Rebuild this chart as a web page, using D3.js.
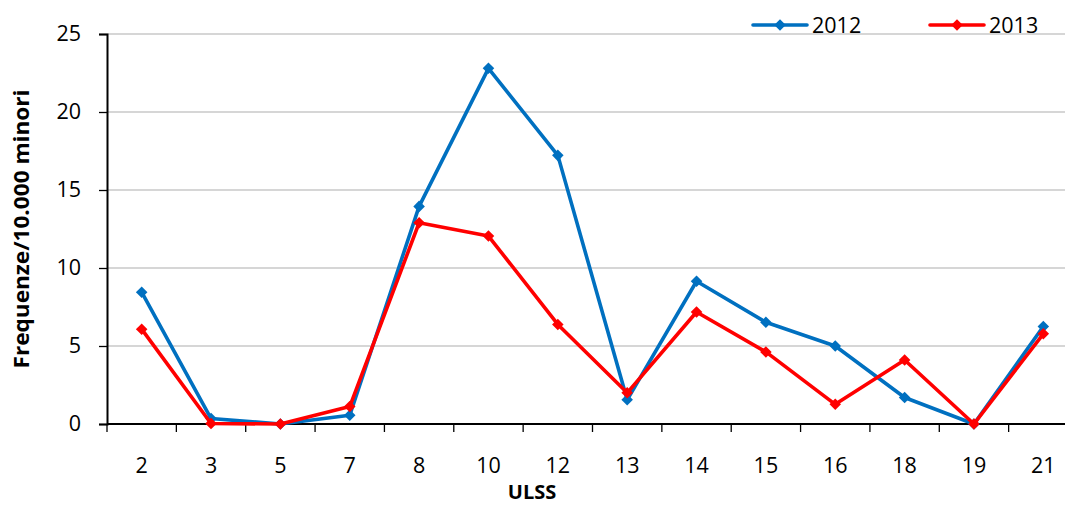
<!DOCTYPE html>
<html>
<head>
<meta charset="utf-8">
<script src="https://cdn.jsdelivr.net/npm/d3@7"></script>
<style>
  html, body { margin: 0; padding: 0; background: #fff; overflow: hidden; }
  svg { display: block; font-family: "Open Sans", "Liberation Sans", sans-serif; }
</style>
</head>
<body>
<svg id="chart" width="1065" height="505"></svg>
<script>
// ULSS districts on the x axis
const categories = ["2", "3", "5", "7", "8", "10", "12", "13", "14", "15", "16", "18", "19", "21"];
// Frequency per 10,000 minors
const values2012 = [8.45, 0.35, 0, 0.56, 13.95, 22.8, 17.22, 1.55, 9.15, 6.52, 5.0, 1.7, 0, 6.25];
const values2013 = [6.08, 0.03, 0, 1.12, 12.9, 12.05, 6.38, 2.0, 7.18, 4.62, 1.26, 4.1, 0, 5.78];
const seriesNames = ["2012", "2013"];
const seriesColors = ["#0070C0", "#FF0000"];
const yTicks = [0, 5, 10, 15, 20, 25];

const svg = d3.select("#chart");
const plotLeft = 107, plotTop = 34, plotBottom = 424, plotRight = 1078;
const labelSize = 21.5;

const x = d3.scaleBand().domain(categories).range([plotLeft, plotRight]).paddingInner(0).paddingOuter(0);
const y = d3.scaleLinear().domain([0, 25]).range([plotBottom, plotTop]);

// horizontal gridlines
svg.append("g")
  .selectAll("line")
  .data(yTicks.filter(d => d > 0))
  .join("line")
  .attr("x1", plotLeft).attr("x2", plotRight)
  .attr("y1", d => y(d)).attr("y2", d => y(d))
  .attr("stroke", "#c8c8c8").attr("stroke-width", 1.3);

// y axis
const yAxis = svg.append("g")
  .attr("transform", `translate(${plotLeft},0)`)
  .call(d3.axisLeft(y).tickValues(yTicks).tickSize(8).tickPadding(18));
yAxis.select(".domain").attr("stroke", "#000").attr("stroke-width", 2);
yAxis.selectAll(".tick line").attr("stroke", "#000").attr("stroke-width", 1.3);
yAxis.selectAll(".tick text").attr("font-size", labelSize).attr("fill", "#000")
  .attr("font-family", "'Open Sans', sans-serif");

// x axis: ticks sit on category boundaries
const xAxis = svg.append("g").attr("transform", `translate(0,${plotBottom})`);
xAxis.append("line").attr("x1", plotLeft).attr("x2", plotRight).attr("stroke", "#000").attr("stroke-width", 2.2);
const boundaries = categories.map(c => x(c)).concat([x(categories[categories.length - 1]) + x.bandwidth()]);
xAxis.selectAll("line.tk")
  .data(boundaries)
  .join("line").attr("class", "tk")
  .attr("x1", d => d).attr("x2", d => d)
  .attr("y1", 0).attr("y2", 8)
  .attr("stroke", "#000").attr("stroke-width", 1.3);
xAxis.selectAll("text")
  .data(categories)
  .join("text")
  .attr("x", d => x(d) + x.bandwidth() / 2)
  .attr("y", 49)
  .attr("text-anchor", "middle")
  .attr("font-size", labelSize)
  .text(d => d);

// axis titles
svg.append("text")
  .attr("transform", `translate(29,229) rotate(-90)`)
  .attr("text-anchor", "middle")
  .attr("font-size", 21).attr("font-weight", "bold")
  .attr("textLength", 279).attr("lengthAdjust", "spacingAndGlyphs")
  .text("Frequenze/10.000 minori");
svg.append("text")
  .attr("x", 532).attr("y", 499)
  .attr("text-anchor", "middle")
  .attr("font-size", 20).attr("font-weight", "bold")
  .text("ULSS");

// series lines with diamond markers
const line = d3.line()
  .x((d, i) => x(categories[i]) + x.bandwidth() / 2)
  .y(d => y(d));
const diamond = d3.symbol().type(d3.symbolDiamond2).size(85);

[values2012, values2013].forEach((vals, s) => {
  const g = svg.append("g");
  g.append("path")
    .datum(vals)
    .attr("d", line)
    .attr("fill", "none")
    .attr("stroke", seriesColors[s])
    .attr("stroke-width", 3.6)
    .attr("stroke-linejoin", "round");
  g.selectAll("path.m")
    .data(vals)
    .join("path").attr("class", "m")
    .attr("transform", (d, i) => `translate(${x(categories[i]) + x.bandwidth() / 2},${y(d)})`)
    .attr("d", diamond)
    .attr("fill", seriesColors[s]);
});

// legend
const legendX = [753, 930];
seriesNames.forEach((name, s) => {
  const g = svg.append("g").attr("transform", `translate(${legendX[s]},25)`);
  g.append("line").attr("x1", 0).attr("x2", 54).attr("y1", 0).attr("y2", 0)
    .attr("stroke", seriesColors[s]).attr("stroke-width", 3.6).attr("stroke-linecap", "round");
  g.append("path").attr("transform", "translate(27,0)").attr("d", diamond).attr("fill", seriesColors[s]);
  g.append("text").attr("x", 59).attr("y", 8).attr("font-size", labelSize).text(name);
});
</script>
</body>
</html>
